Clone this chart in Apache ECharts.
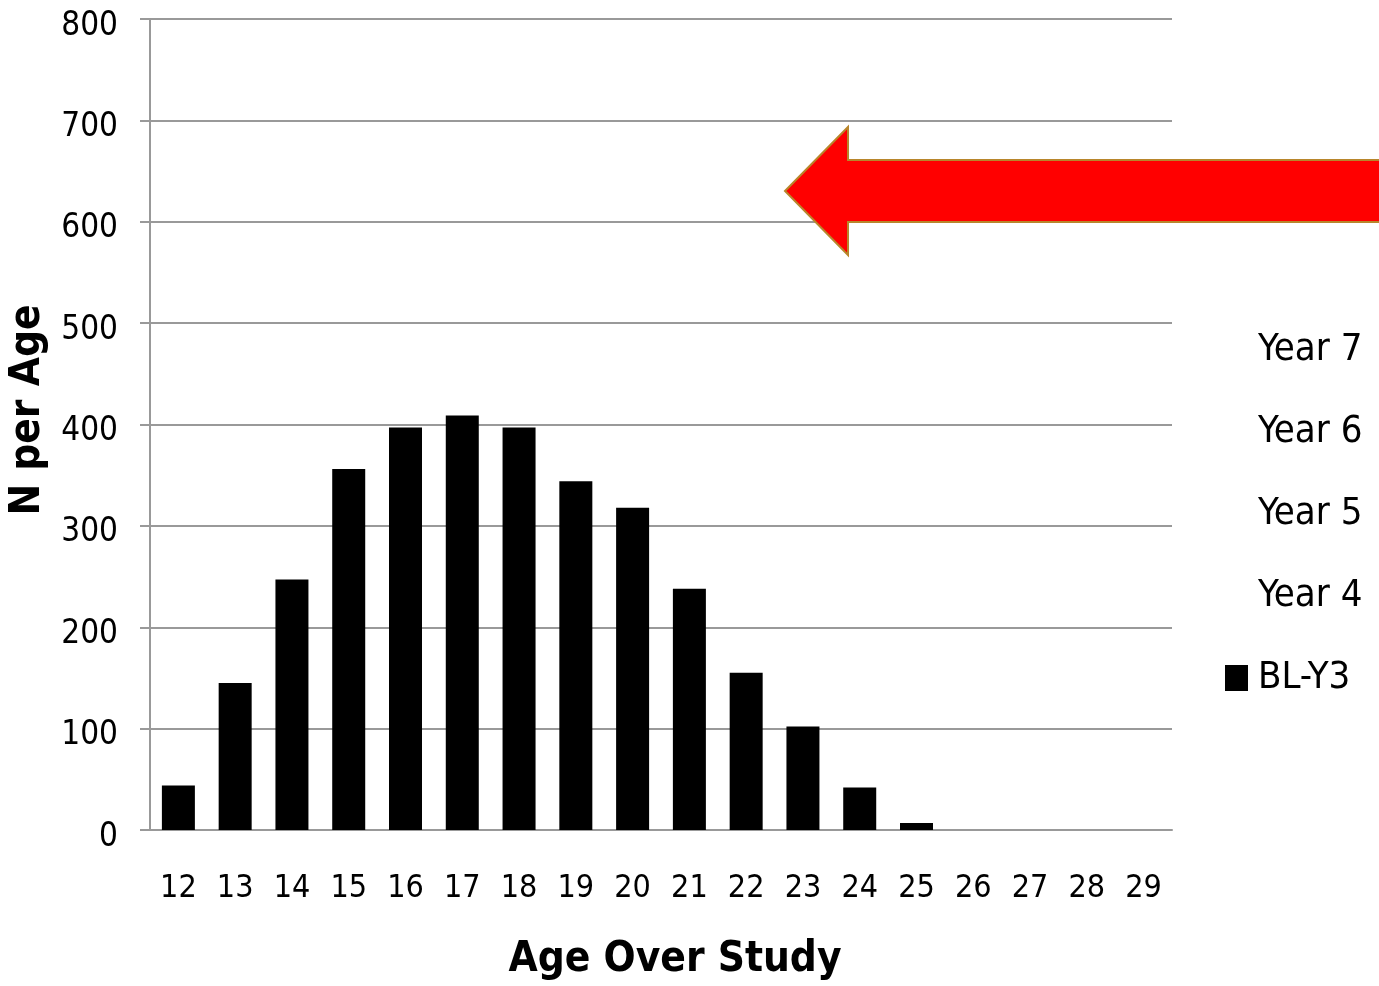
<!DOCTYPE html>
<html>
<head>
<meta charset="utf-8">
<script src="https://cdn.jsdelivr.net/npm/echarts@6/dist/echarts.min.js"></script>
<style>
html,body{margin:0;padding:0;background:#fff;}
#c{width:1379px;height:986px;}
</style>
</head>
<body>
<div id="c"></div>
<script>
const categories = ['12','13','14','15','16','17','18','19','20','21','22','23','24','25','26','27','28','29'];
const blY3 = [44,145,247,356,397,409,397,344,318,238,155,102,42,7,0,0,0,0];
const emptySeriesNames = ['Year 7','Year 6','Year 5','Year 4'];
const yTicks = [0,100,200,300,400,500,600,700,800];
const xTitle = 'Age Over Study';
const yTitle = 'N per Age';

const FONT = '"Liberation Sans Narrow","DejaVu Sans Condensed","Liberation Sans",sans-serif';
const GRID_COLOR = '#999999';

const chart = echarts.init(document.getElementById('c'), null, {renderer:'canvas'});

const series = emptySeriesNames.map(n => ({
  name: n, type: 'bar', stack: 'all', data: [],
  itemStyle: {color: '#ffffff'}
}));
series.push({
  name: 'BL-Y3', type: 'bar', stack: 'all', data: blY3,
  barWidth: 33,
  itemStyle: {color: '#000000'}
});

chart.setOption({
  animation: false,
  backgroundColor: '#ffffff',
  grid: {left: 150, right: 207, top: 19, bottom: 156, containLabel: false, outerBoundsMode: 'none'},
  legend: {
    orient: 'vertical',
    left: 1220, top: 325,
    itemWidth: 23, itemHeight: 26, itemGap: 42,
    icon: 'rect',
    data: ['Year 7','Year 6','Year 5','Year 4','BL-Y3'],
    textStyle: {fontFamily: FONT, fontSize: 38, color: '#000', lineHeight: 40, padding: [0,0,0,5]}
  },
  xAxis: {
    type: 'category',
    data: categories,
    axisLine: {show: true, lineStyle: {color: GRID_COLOR, width: 2}},
    axisTick: {show: false},
    axisLabel: {fontFamily: FONT, fontSize: 32, color: '#000', margin: 43, interval: 0}
  },
  yAxis: {
    type: 'value',
    min: 0, max: 800, interval: 100,
    axisLine: {show: true, lineStyle: {color: GRID_COLOR, width: 2}},
    axisTick: {show: true, length: 10, inside: false, lineStyle: {color: GRID_COLOR, width: 2}},
    splitLine: {show: true, lineStyle: {color: GRID_COLOR, width: 2}},
    axisLabel: {fontFamily: FONT, fontSize: 33, color: '#000', margin: 32,
      verticalAlign: 'top', lineHeight: 14,
      formatter: v => yTicks.includes(v) ? String(v) : ''}
  },
  graphic: [{
    type: 'polygon',
    z: 100,
    shape: {points: [[785,191],[848,127],[848,160],[1385,160],[1385,222],[848,222],[848,255]]},
    style: {fill: '#ff0000', stroke: '#b8862b', lineWidth: 2}
  }, {
    type: 'text',
    x: 675, y: 960,
    style: {text: xTitle, fontFamily: FONT, fontSize: 42, fontWeight: 'bold', fill: '#000',
      textAlign: 'center', textVerticalAlign: 'middle'}
  }, {
    type: 'text',
    x: 28, y: 410,
    rotation: Math.PI / 2,
    style: {text: yTitle, fontFamily: FONT, fontSize: 42, fontWeight: 'bold', fill: '#000',
      textAlign: 'center', textVerticalAlign: 'middle'}
  }],
  series: series
});
</script>
</body>
</html>
